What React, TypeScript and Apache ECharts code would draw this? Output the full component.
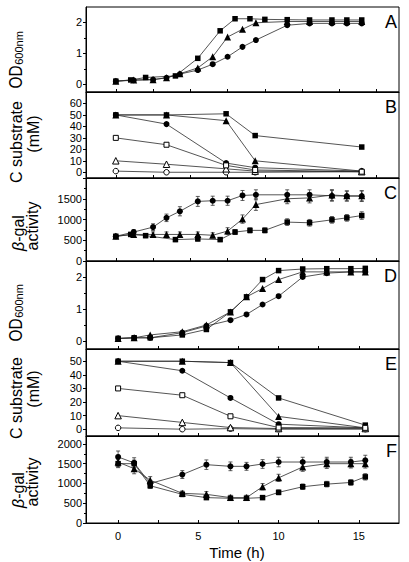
import React, { useEffect, useRef } from "react";
import * as echarts from "echarts";

// ---------- time points ----------
const TOP_T_SQ = [0, 1, 2, 4, 5.5, 7, 8, 9, 10, 11.5, 13, 14.5, 15.5, 16.5];
const TOP_T_TC = [0, 1.2, 2.5, 3.4, 4.3, 5.5, 6.5, 7.5, 8.5, 9.4, 11.5, 13, 14.5, 15.5, 16.5];
const B_T = [0, 3.4, 7.4, 9.35, 16.5];
const BOT_T = [0, 1, 2, 4, 5.5, 7, 8, 9, 10, 11.5, 13, 14.5, 15.4];
const E_T = [0, 4, 7, 10, 15.4];

// ---------- panel A (OD600) ----------
const aSquare = [0.1, 0.14, 0.22, 0.27, 0.84, 1.73, 2.12, 2.12, 2.1, 2.09, 2.08, 2.08, 2.08, 2.08];
const aTriangle = [0.1, 0.14, 0.15, 0.21, 0.34, 0.53, 0.89, 1.53, 1.78, 1.99, 2.03, 2.03, 2.03, 2.03, 2.03];
const aCircle = [0.1, 0.13, 0.15, 0.21, 0.33, 0.46, 0.65, 0.89, 1.21, 1.43, 1.91, 1.97, 1.97, 1.97, 1.97];

// ---------- panel B (C substrate, mM) ----------
const bSquare = [50, 50, 51, 32, 22];
const bTriangle = [50, 50, 45, 10, 1];
const bCircle = [50, 42, 8, 4, 1];
const bOpenSquare = [30, 24, 6, 2, 0.5];
const bOpenTriangle = [10, 7, 3, 1, 0.5];
const bOpenCircle = [1, 0, 0, 0, 0.5];

// ---------- panel C (beta-gal activity) ----------
const cSquare = [595, 640, 611, 516, 532, 516, 698, 738, 738, 937, 921, 992, 1040, 1095];
const cTriangle = [595, 640, 640, 640, 640, 640, 620, 722, 1010, 1360, 1500, 1520, 1590, 1570, 1570];
const cCircle = [595, 698, 817, 1040, 1198, 1436, 1452, 1452, 1579, 1595, 1595, 1595, 1571, 1563, 1563];
const cSquareErr = [40, 50, 50, 50, 50, 50, 60, 60, 60, 80, 80, 80, 80, 90];
const cTriangleErr = [40, 50, 60, 60, 60, 60, 60, 80, 100, 140, 120, 120, 130, 120, 120];
const cCircleErr = [40, 60, 80, 90, 110, 120, 110, 110, 120, 120, 120, 120, 130, 120, 130];

// ---------- panel D (OD600) ----------
const dSquare = [0.08, 0.1, 0.1, 0.19, 0.36, 0.91, 1.38, 1.92, 2.2, 2.25, 2.26, 2.26, 2.27];
const dTriangle = [0.08, 0.1, 0.19, 0.29, 0.5, 0.91, 1.38, 1.64, 1.92, 2.16, 2.16, 2.16, 2.16];
const dCircle = [0.08, 0.1, 0.1, 0.26, 0.47, 0.65, 0.83, 1.14, 1.4, 2.0, 2.12, 2.16, 2.16];

// ---------- panel E (C substrate, mM) ----------
const eSquare = [50, 50, 49, 23, 3];
const eTriangle = [50, 50, 49, 9.4, 1];
const eCircle = [50, 43, 23, 3.7, 1];
const eOpenSquare = [30, 25, 9.5, 1.2, 1];
const eOpenTriangle = [10, 5, 1.2, 0.5, 0.5];
const eOpenCircle = [1, 0, 0.4, 0, 0];

// ---------- panel F (beta-gal activity) ----------
const fSquare = [1500, 1500, 942, 725, 642, 625, 625, 642, 775, 917, 983, 1025, 1167];
const fTriangle = [1540, 1375, 1083, 750, 725, 642, 642, 917, 1142, 1417, 1500, 1500, 1500];
const fCircle = [1670, 1520, 1000, 1225, 1475, 1433, 1433, 1492, 1542, 1542, 1542, 1542, 1583];
const fSquareErr = [100, 90, 70, 60, 50, 50, 50, 50, 60, 70, 70, 70, 80];
const fTriangleErr = [120, 130, 90, 60, 70, 60, 60, 80, 90, 110, 120, 110, 110];
const fCircleErr = [150, 130, 80, 100, 120, 110, 100, 110, 120, 120, 120, 120, 130];

// ---------- axis ticks ----------
const TOP_X_TICKS = [0, 2.5, 5, 7.5, 10, 12.5, 15, 17.5];
const BOT_X_TICKS = [0, 2.5, 5, 7.5, 10, 12.5, 15];
const BOT_X_LABELS = [0, 5, 10, 15];
const OD_TICKS = [0, 1, 2];
const OD_MINOR = [0.5, 1.5];
const SUB_B_TICKS = [0, 10, 20, 30, 40, 50, 60];
const SUB_E_TICKS = [0, 10, 20, 30, 40, 50];
const GAL_C_TICKS = [0, 500, 1000, 1500, 2000];
const GAL_C_LABELS = [0, 500, 1000, 1500];
const GAL_F_TICKS = [0, 500, 1000, 1500, 2000];
const GAL_MINOR = [250, 750, 1250, 1750];
const PANEL_LETTERS = ["A", "B", "C", "D", "E", "F"];

const FONT = "'Liberation Sans', Arial, Helvetica, sans-serif";
const LEFT = 86;
const RIGHT = 10;
const GRIDS = [
  { top: 7, height: 85 },
  { top: 92, height: 86 },
  { top: 178, height: 83 },
  { top: 261, height: 88 },
  { top: 349, height: 87 },
  { top: 436, height: 87 },
];

const zip = (ts: number[], vs: number[]) => ts.map((t, i) => [t, vs[i]]);
const zipErr = (ts: number[], vs: number[], es: number[]) =>
  ts.map((t, i) => [t, vs[i] - es[i], vs[i] + es[i]]);

function lineSeries(gi: number, ts: number[], vs: number[], symbol: string, filled: boolean) {
  const size = symbol === "triangle" ? 7 : symbol === "rect" ? 5.5 : 6;
  return {
    type: "line",
    xAxisIndex: gi,
    yAxisIndex: gi,
    data: zip(ts, vs),
    symbol,
    symbolSize: filled ? size : size - 0.5,
    showAllSymbol: true,
    lineStyle: { color: "#2a2a2a", width: 0.8 },
    itemStyle: {
      color: filled ? "#000" : "#fff",
      borderColor: "#000",
      borderWidth: filled ? 0 : 1,
    },
    z: filled ? 3 : 4,
    silent: true,
  };
}

function errSeries(gi: number, ts: number[], vs: number[], es: number[]) {
  return {
    type: "custom",
    xAxisIndex: gi,
    yAxisIndex: gi,
    data: zipErr(ts, vs, es),
    encode: { x: 0, y: [1, 2] },
    silent: true,
    z: 2,
    renderItem: (params: any, api: any) => {
      const x = api.value(0);
      const a = api.coord([x, api.value(1)]);
      const b = api.coord([x, api.value(2)]);
      const w = 2;
      const st = { stroke: "#333", lineWidth: 0.8 };
      return {
        type: "group",
        children: [
          { type: "line", shape: { x1: a[0], y1: a[1], x2: b[0], y2: b[1] }, style: st },
          { type: "line", shape: { x1: a[0] - w, y1: a[1], x2: a[0] + w, y2: a[1] }, style: st },
          { type: "line", shape: { x1: b[0] - w, y1: b[1], x2: b[0] + w, y2: b[1] }, style: st },
        ],
      };
    },
  };
}

function xAxis(gi: number, top: boolean, labels: boolean) {
  return {
    type: "value",
    gridIndex: gi,
    position: "bottom",
    min: -2,
    max: top ? 19 : 17.5,
    axisLine: { show: true, onZero: false, lineStyle: { color: "#000", width: 1 } },
    axisTick: {
      show: true,
      inside: true,
      length: 3,
      customValues: top ? TOP_X_TICKS : BOT_X_TICKS,
      lineStyle: { color: "#000", width: 1 },
    },
    axisLabel: labels
      ? {
          show: true,
          customValues: BOT_X_LABELS,
          fontSize: 11,
          color: "#000",
          fontFamily: FONT,
          margin: 7,
          formatter: (v: number) => String(v),
        }
      : { show: false },
    splitLine: { show: false },
  };
}

function yAxis(gi: number, min: number, max: number, ticks: number[], labels: number[]) {
  return {
    type: "value",
    gridIndex: gi,
    position: "left",
    min,
    max,
    axisLine: { show: true, onZero: false, lineStyle: { color: "#000", width: 1 } },
    axisTick: { show: true, inside: false, length: 3, customValues: ticks, lineStyle: { color: "#000", width: 1 } },
    axisLabel: {
      show: true,
      customValues: labels,
      fontSize: 11,
      color: "#000",
      fontFamily: FONT,
      margin: 4,
      formatter: (v: number) => String(v),
    },
    splitLine: { show: false },
  };
}

function minorAxis(gi: number, min: number, max: number, ticks: number[]) {
  return {
    type: "value",
    gridIndex: gi,
    position: "left",
    offset: 0,
    min,
    max,
    axisLine: { show: false, onZero: false },
    axisTick: { show: true, inside: false, length: 2, customValues: ticks, lineStyle: { color: "#000", width: 1 } },
    axisLabel: { show: false },
    splitLine: { show: false },
  };
}

function rotText(text: string, x: number, y: number, fontSize: number, scaleX = 1, rich?: any) {
  return {
    type: "text",
    x,
    y,
    rotation: Math.PI / 2,
    scaleX,
    silent: true,
    style: {
      text,
      fontSize,
      fontFamily: FONT,
      fill: "#000",
      align: "center",
      verticalAlign: "middle",
      rich,
    },
  };
}

export default function App() {
  const ref = useRef<HTMLDivElement>(null);
  useEffect(() => {
    if (!ref.current) return;
    const chart = echarts.init(ref.current, null, { renderer: "svg" });

    const grids = GRIDS.map((g) => ({
      left: LEFT,
      right: RIGHT,
      top: g.top,
      height: g.height,
      show: true,
      borderColor: "#000",
      borderWidth: 1,
      containLabel: false,
    }));

    const xAxes = [
      xAxis(0, true, false),
      xAxis(1, true, false),
      xAxis(2, true, false),
      xAxis(3, false, false),
      xAxis(4, false, false),
      xAxis(5, false, true),
    ];

    const yAxes: any[] = [
      yAxis(0, -0.25, 2.5, OD_TICKS, OD_TICKS),
      yAxis(1, -5, 70, SUB_B_TICKS, SUB_B_TICKS),
      yAxis(2, 0, 2000, GAL_C_TICKS, GAL_C_LABELS),
      yAxis(3, -0.25, 2.5, OD_TICKS, OD_TICKS),
      yAxis(4, -5, 59, SUB_E_TICKS, SUB_E_TICKS),
      yAxis(5, 0, 2200, GAL_F_TICKS, GAL_F_TICKS),
      minorAxis(0, -0.25, 2.5, OD_MINOR),
      minorAxis(2, 0, 2000, GAL_MINOR),
      minorAxis(3, -0.25, 2.5, OD_MINOR),
      minorAxis(5, 0, 2200, GAL_MINOR),
    ];

    const series: any[] = [
      // A
      lineSeries(0, TOP_T_TC, aCircle, "circle", true),
      lineSeries(0, TOP_T_TC, aTriangle, "triangle", true),
      lineSeries(0, TOP_T_SQ, aSquare, "rect", true),
      // B
      lineSeries(1, B_T, bOpenCircle, "circle", false),
      lineSeries(1, B_T, bOpenTriangle, "triangle", false),
      lineSeries(1, B_T, bOpenSquare, "rect", false),
      lineSeries(1, B_T, bCircle, "circle", true),
      lineSeries(1, B_T, bTriangle, "triangle", true),
      lineSeries(1, B_T, bSquare, "rect", true),
      // C
      errSeries(2, TOP_T_TC, cCircle, cCircleErr),
      errSeries(2, TOP_T_TC, cTriangle, cTriangleErr),
      errSeries(2, TOP_T_SQ, cSquare, cSquareErr),
      lineSeries(2, TOP_T_TC, cCircle, "circle", true),
      lineSeries(2, TOP_T_TC, cTriangle, "triangle", true),
      lineSeries(2, TOP_T_SQ, cSquare, "rect", true),
      // D
      lineSeries(3, BOT_T, dCircle, "circle", true),
      lineSeries(3, BOT_T, dTriangle, "triangle", true),
      lineSeries(3, BOT_T, dSquare, "rect", true),
      // E
      lineSeries(4, E_T, eOpenCircle, "circle", false),
      lineSeries(4, E_T, eOpenTriangle, "triangle", false),
      lineSeries(4, E_T, eOpenSquare, "rect", false),
      lineSeries(4, E_T, eCircle, "circle", true),
      lineSeries(4, E_T, eTriangle, "triangle", true),
      lineSeries(4, E_T, eSquare, "rect", true),
      // F
      errSeries(5, BOT_T, fCircle, fCircleErr),
      errSeries(5, BOT_T, fTriangle, fTriangleErr),
      errSeries(5, BOT_T, fSquare, fSquareErr),
      lineSeries(5, BOT_T, fCircle, "circle", true),
      lineSeries(5, BOT_T, fTriangle, "triangle", true),
      lineSeries(5, BOT_T, fSquare, "rect", true),
    ];

    const letters = PANEL_LETTERS.map((t, i) => ({
      type: "text",
      x: 397,
      y: GRIDS[i].top + 15,
      silent: true,
      style: { text: t, fontSize: 18, fontFamily: FONT, fill: "#000", align: "right", verticalAlign: "middle" },
    }));

    const galRich = { it: { fontStyle: "italic", fontSize: 16, fontFamily: FONT } };

    const graphic = [
      ...letters,
      // A label
      rotText("OD", 16, 77, 18, 0.85),
      rotText("600nm", 19, 48, 11),
      // B label
      rotText("C substrate", 16, 142, 16),
      rotText("(mM)", 33, 134, 16),
      // C label
      rotText("{it|β}-gal", 18, 233, 16, 1, galRich),
      rotText("activity", 32, 226, 16),
      // D label
      rotText("OD", 16, 330, 18, 0.85),
      rotText("600nm", 19, 301, 11),
      // E label
      rotText("C substrate", 16, 398, 16),
      rotText("(mM)", 33, 389, 16),
      // F label
      rotText("{it|β}-gal", 18, 490, 16, 1, galRich),
      rotText("activity", 32, 482, 16),
      // x title
      {
        type: "text",
        x: 237,
        y: 552,
        silent: true,
        style: { text: "Time (h)", fontSize: 15, fontFamily: FONT, fill: "#000", align: "center", verticalAlign: "middle" },
      },
    ];

    chart.setOption({
      animation: false,
      backgroundColor: "#fff",
      textStyle: { fontFamily: FONT },
      grid: grids,
      xAxis: xAxes,
      yAxis: yAxes,
      series,
      graphic,
    });
    return () => chart.dispose();
  }, []);

  return (
    <div
      ref={ref}
      style={{ position: "absolute", left: 0, top: 0, width: 409, height: 562, background: "#fff" }}
    />
  );
}
